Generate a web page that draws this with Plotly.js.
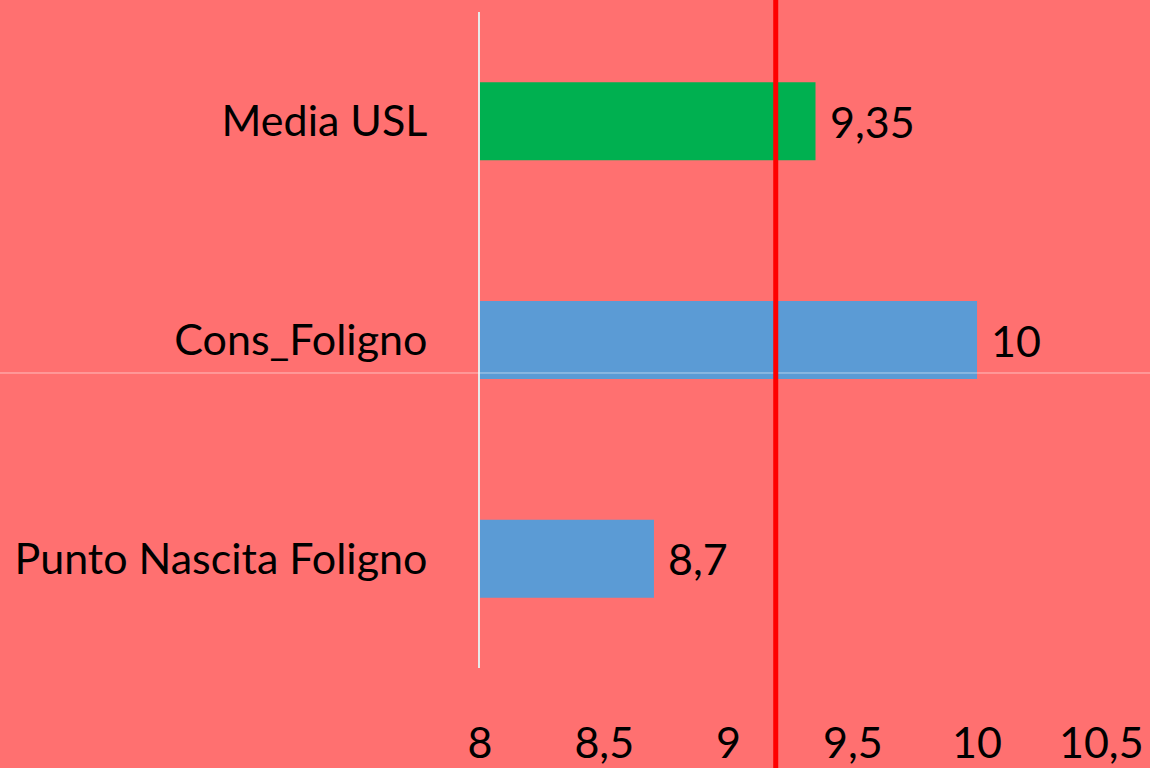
<!DOCTYPE html>
<html>
<head>
<meta charset="utf-8">
<script src="https://cdn.plot.ly/plotly-3.0.1.min.js"></script>
<style>
  html, body { margin: 0; padding: 0; background: #ff7070; }
  #chart { width: 1150px; height: 768px; }
</style>
</head>
<body>
<div id="chart"></div>
<script>
'use strict';

// bottom-up order, as plotly draws categories
const categories = ['Punto Nascita Foligno', 'Cons_Foligno', 'Media USL'];
const values = [8.7, 10, 9.35];
const barColors = ['#5b9bd5', '#5b9bd5', '#00b050'];
const targetValue = 9.19;
const xTicks = [8, 8.5, 9, 9.5, 10, 10.5];

const FONT = 'Lato, "Open Sans", sans-serif';
const SIZE = 43;

const fmt = v => String(v).replace('.', ',');

const data = [{
  type: 'bar',
  orientation: 'h',
  y: categories,
  x: values,
  base: 0,
  marker: {color: barColors},
  hoverinfo: 'x+y'
}];

const layout = {
  width: 1150,
  height: 768,
  paper_bgcolor: '#ff7070',
  plot_bgcolor: '#ff7070',
  separators: ',.',
  showlegend: false,
  bargap: 0.643,
  margin: {l: 480, r: 0, t: 12, b: 100},
  font: {family: FONT, size: SIZE, color: '#000'},
  xaxis: {
    range: [8, 10.696],
    tickvals: xTicks,
    ticktext: xTicks.map(fmt),
    showgrid: false,
    zeroline: false,
    showline: false,
    ticks: '',
    ticklabelstandoff: 46,
    tickfont: {family: FONT, size: SIZE, color: '#000'}
  },
  yaxis: {
    type: 'category',
    categoryarray: categories,
    showgrid: false,
    zeroline: false,
    showline: true,
    linecolor: '#e8e8e8',
    linewidth: 2,
    ticks: '',
    ticklabelstandoff: 42,
    tickfont: {family: FONT, size: SIZE, color: '#000'}
  },
  annotations: categories.map((c, i) => ({
    x: values[i],
    y: c,
    xref: 'x',
    yref: 'y',
    text: fmt(values[i]),
    showarrow: false,
    xanchor: 'left',
    xshift: 12,
    font: {family: FONT, size: SIZE, color: '#000'}
  })),
  shapes: [
    {
      type: 'line',
      xref: 'paper', yref: 'paper',
      x0: -0.72, x1: 1, y0: 0.4497, y1: 0.4497,
      line: {color: 'rgba(255,255,255,0.55)', width: 1}
    },
    {
      type: 'line',
      xref: 'x', yref: 'paper',
      x0: targetValue, x1: targetValue, y0: -0.2, y1: 1.1,
      line: {color: '#ff0000', width: 5}
    }
  ]
};

Plotly.newPlot('chart', data, layout, {displayModeBar: false, staticPlot: true});
</script>
</body>
</html>
